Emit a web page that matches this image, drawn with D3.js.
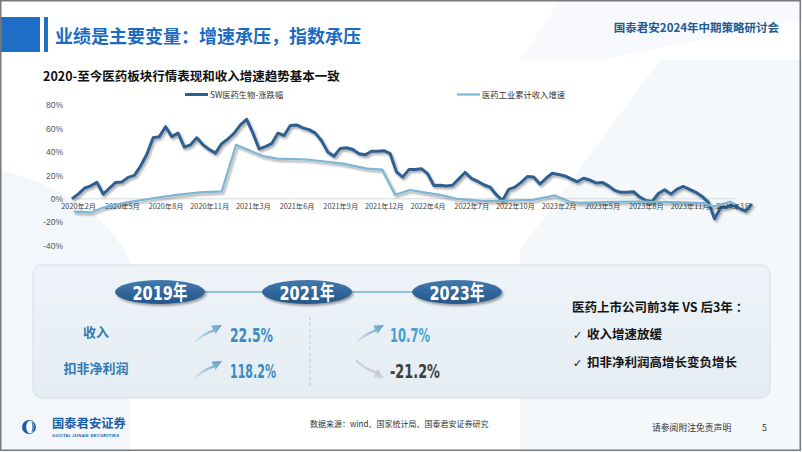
<!DOCTYPE html>
<html>
<head>
<meta charset="utf-8">
<script src="https://cdn.jsdelivr.net/npm/d3@7"></script>
<style>
  body { margin: 0; background: #fff; }
  svg { display: block; }
</style>
</head>
<body>
<svg id="slide"></svg>
<script>
// x-axis category labels (one every 7 bi-weekly points)
const tickLabels = ["2020年2月", "2020年5月", "2020年8月", "2020年11月", "2021年3月", "2021年6月",
  "2021年9月", "2021年12月", "2022年4月", "2022年7月", "2022年10月", "2023年2月",
  "2023年5月", "2023年8月", "2023年11月", "2024年3月"];
// SW医药生物 cumulative change, %, bi-weekly
const swChange = [0, 4, 9, 11, 14, 4, 9, 14, 14.3, 18.3,
  20, 28, 38, 52, 53, 61.5, 53, 56, 44, 46,
  52, 46, 42, 39, 47, 51, 56, 63, 67.8, 56,
  42.5, 44.5, 47, 56, 54, 62.5, 63, 60.5, 59, 56,
  49.5, 40, 36.3, 43, 43.5, 42, 38.4, 37.5, 40.5, 40.5,
  41, 38.5, 23, 18.5, 24.9, 25, 25.7, 21.5, 11.4, 11.5,
  11, 11.5, 17, 22.5, 17.5, 15, 12, 10, 3.5, -1.5,
  8, 10, 14, 19, 18.5, 12.6, 17.5, 21.8, 20.8, 19.5,
  17, 14.5, 17.5, 16, 13.5, 14, 11, 7.2, 5.5, 5.5,
  6, 1.5, -1.5, -2.3, 4.5, 7.7, 4, 8.2, 10.5, 8,
  5.5, 2, -3, -17, -7.5, -7, -5, -8.3, -10.5, -4.5];
// 医药工业累计收入增速, % (period where each monthly reading falls)
const revenueAt = [0.3, 3.2, 5, 8.8, 13, 16.8, 20.5, 24, 26.3, 30.6, 32.9, 37.7, 43.4, 47.3, 49.7,
  51.8, 54.2, 56.9, 59, 61.7, 65.9, 68.6, 73.9, 77.4, 79.8, 81.4, 85.1, 90.6, 95.9, 101.2,
  102.8, 105.5, 106.3];
const revenueGrowth = [-11, -11.5, -7.5, -3, 0.5, 3.4, 5.4, 6.3, 46, 36.5, 34.3, 33.5, 30, 25.7, 24.9,
  3.4, 7.5, 5, 3.4, 0, -1.7, -1.7, -0.9, 2.9, -2.5, -3.5, -2.9, -2.3, -2.9, -3.7,
  -6.6, -2.5, -5];
const yTicks = [-40, -20, 0, 20, 40, 60, 80];
const seriesNames = ["SW医药生物-涨跌幅", "医药工业累计收入增速"];

const years = ["2019年", "2021年", "2023年"];
const metrics = ["收入", "扣非净利润"];
const firstPeriod = ["22.5%", "118.2%"];
const secondPeriod = ["10.7%", "-21.2%"];
const summary = ["医药上市公司前3年 VS 后3年 ：", "收入增速放缓", "扣非净利润高增长变负增长"];

const W = 802, H = 452;
const cjk = "'Noto Sans CJK SC', 'Noto Sans', sans-serif";
const narrow = "'DejaVu Sans', 'Noto Sans CJK SC', sans-serif";
const darkBlue = "#2d5f8f";
const lightBlue = "#7db5d2";

const svg = d3.select("#slide").attr("width", W).attr("height", H).attr("viewBox", [0, 0, W, H]);
const defs = svg.append("defs");

const shadow = defs.append("filter").attr("id", "shadow")
  .attr("x", "-5%").attr("y", "-20%").attr("width", "110%").attr("height", "140%");
shadow.append("feDropShadow").attr("dx", 1.5).attr("dy", 2).attr("stdDeviation", 1)
  .attr("flood-color", "#000").attr("flood-opacity", 0.35);

const panelGrad = defs.append("linearGradient").attr("id", "panelGrad").attr("x1", 0).attr("y1", 0).attr("x2", 0).attr("y2", 1);
panelGrad.append("stop").attr("offset", 0).attr("stop-color", "#eef4f8");
panelGrad.append("stop").attr("offset", 1).attr("stop-color", "#e4edf3");

const badgeGrad = defs.append("linearGradient").attr("id", "badgeGrad").attr("x1", 0).attr("y1", 0).attr("x2", 0).attr("y2", 1);
badgeGrad.append("stop").attr("offset", 0).attr("stop-color", "#4279ae");
badgeGrad.append("stop").attr("offset", 1).attr("stop-color", "#245589");

const upGrad = defs.append("linearGradient").attr("id", "upGrad").attr("x1", 0).attr("y1", 1).attr("x2", 1).attr("y2", 0);
upGrad.append("stop").attr("offset", 0).attr("stop-color", "#e2eef4");
upGrad.append("stop").attr("offset", 1).attr("stop-color", "#5b9dc2");

const downGrad = defs.append("linearGradient").attr("id", "downGrad").attr("x1", 0).attr("y1", 0).attr("x2", 1).attr("y2", 1);
downGrad.append("stop").attr("offset", 0).attr("stop-color", "#eceeef");
downGrad.append("stop").attr("offset", 1).attr("stop-color", "#a9adb0");

// background
svg.append("rect").attr("width", W).attr("height", H).attr("fill", "#fff");
svg.append("path").attr("d", "M0,170 C60,185 110,215 130,262 L130,452 L0,452 Z").attr("fill", "#f3f7fb");
svg.append("path").attr("d", "M520,60 L802,60 L802,452 L520,452 Z").attr("fill", "#f4f8fb");
svg.append("path").attr("d", "M520,60 L660,60 L520,250 Z").attr("fill", "#fff");
svg.append("path").attr("d", "M560,0 L802,0 L802,20 L600,60 L520,60 Z").attr("fill", "#f7f9fc");

// header
svg.append("rect").attr("x", 0).attr("y", 17).attr("width", 40).attr("height", 35).attr("fill", "#1f6fc6");
svg.append("rect").attr("x", 44).attr("y", 17).attr("width", 4).attr("height", 35).attr("fill", "#1f6fc6");
svg.append("text").attr("x", 55).attr("y", 43).attr("font-family", cjk).attr("font-size", 18)
  .attr("font-weight", 700).attr("fill", "#1a6cc3").text("业绩是主要变量：增速承压，指数承压");
svg.append("text").attr("x", 779).attr("y", 31.5).attr("text-anchor", "end").attr("font-family", cjk)
  .attr("font-size", 11.5).attr("font-weight", 700).attr("fill", "#1f5a92").text("国泰君安2024年中期策略研讨会");

// chart title
svg.append("text").attr("x", 43).attr("y", 80.5).attr("font-family", cjk).attr("font-size", 12.5)
  .attr("font-weight", 700).attr("fill", "#111").text("2020-至今医药板块行情表现和收入增速趋势基本一致");

// scales
const x = d3.scaleLinear().domain([0, swChange.length - 1]).range([72, 752]);
const y = d3.scaleLinear().domain([-40, 80]).range([245.7, 105]);

// zero line
svg.append("line").attr("x1", 70).attr("x2", 735).attr("y1", y(0)).attr("y2", y(0))
  .attr("stroke", "#d6d9dc").attr("stroke-width", 1);

// axes
svg.append("g").attr("transform", `translate(64,0)`)
  .call(d3.axisLeft(y).tickValues(yTicks).tickFormat((d) => d + "%").tickSize(0).tickPadding(1))
  .call((g) => g.select(".domain").remove())
  .call((g) => g.selectAll("text").attr("font-family", "'Liberation Sans', Arial, sans-serif")
    .attr("font-size", 8.5).attr("fill", "#555"));

svg.append("g").attr("transform", `translate(0,${y(0)})`)
  .call(d3.axisBottom(x).tickValues(tickLabels.map((d, i) => 1 + 7 * i))
    .tickFormat((d, i) => tickLabels[i]).tickSize(0).tickPadding(5.5))
  .call((g) => g.select(".domain").remove())
  .call((g) => g.selectAll("text").attr("font-family", cjk).attr("font-size", 7.3).attr("fill", "#444"));

// lines
const swLine = d3.line().x((d, i) => x(i)).y((d) => y(d)).curve(d3.curveLinear);
svg.append("path").datum(swChange).attr("d", swLine).attr("fill", "none")
  .attr("stroke", darkBlue).attr("stroke-width", 3).attr("stroke-linejoin", "round")
  .attr("filter", "url(#shadow)");

const revLine = d3.line().x((d, i) => x(revenueAt[i])).y((d) => y(d));
svg.append("path").datum(revenueGrowth).attr("d", revLine).attr("fill", "none")
  .attr("stroke", lightBlue).attr("stroke-width", 2.2).attr("stroke-linejoin", "round")
  .attr("filter", "url(#shadow)");

// legend
const legend = svg.append("g").attr("font-family", cjk).attr("font-size", 8.3).attr("fill", "#333");
[[185, darkBlue, 3], [457, lightBlue, 2.2]].forEach(([lx, c, w], i) => {
  legend.append("line").attr("x1", lx).attr("x2", lx + 23).attr("y1", 94.5).attr("y2", 94.5)
    .attr("stroke", c).attr("stroke-width", w);
  legend.append("text").attr("x", lx + 25).attr("y", 97.5).text(seriesNames[i]);
});

// summary panel
svg.append("rect").attr("x", 33).attr("y", 265).attr("width", 737).attr("height", 133).attr("rx", 9)
  .attr("fill", "url(#panelGrad)").attr("stroke", "#d2dde6").attr("stroke-width", 1);

const badgeX = [160, 307, 457];
svg.append("line").attr("x1", badgeX[0]).attr("x2", badgeX[2]).attr("y1", 292).attr("y2", 292)
  .attr("stroke", "#3f8dbf").attr("stroke-width", 1);
const badges = svg.append("g").selectAll("g").data(years).join("g")
  .attr("transform", (d, i) => `translate(${badgeX[i]},292)`);
badges.append("ellipse").attr("rx", 45).attr("ry", 12).attr("fill", "url(#badgeGrad)").attr("filter", "url(#shadow)");
badges.append("text").attr("text-anchor", "middle").attr("y", 7.5).attr("font-family", narrow)
  .attr("font-size", 20).attr("font-weight", 700).attr("fill", "#fff")
  .attr("textLength", 55).attr("lengthAdjust", "spacingAndGlyphs").text((d) => d);

// metric rows
const rowY = [337, 373];
svg.append("g").selectAll("text").data(metrics).join("text")
  .attr("x", 96).attr("y", (d, i) => rowY[i]).attr("text-anchor", "middle")
  .attr("font-family", cjk).attr("font-size", 13).attr("font-weight", 700).attr("fill", "#3479b0")
  .text((d) => d);

const upArrow = "M0,18 C8,11 13,8 20,5.5 L18.5,1.5 L29,1 L22.5,10 L21.5,7.5 C14,10 9,13 2,19 Z";
const valueWidths = [[43, 46], [40, 50]];
[firstPeriod, secondPeriod].forEach((vals, col) => {
  const ax = col === 0 ? 193 : 355;
  const tx = col === 0 ? 230 : 390;
  vals.forEach((v, r) => {
    const up = !v.startsWith("-");
    const ay = rowY[r] - 13;
    svg.append("path").attr("d", upArrow)
      .attr("transform", up ? `translate(${ax},${ay})` : `translate(${ax},${ay + 19}) scale(1,-1)`)
      .attr("fill", up ? "url(#upGrad)" : "url(#downGrad)");
    svg.append("text").attr("x", tx).attr("y", rowY[r] + 5).attr("font-family", narrow)
      .attr("font-size", 20).attr("font-weight", 700)
      .attr("textLength", valueWidths[col][r]).attr("lengthAdjust", "spacingAndGlyphs")
      .attr("fill", up ? (col === 0 ? "#3a8cc1" : "#45a0d2") : "#3d3f42").text(v);
  });
});

svg.append("line").attr("x1", 310).attr("x2", 310).attr("y1", 317).attr("y2", 386)
  .attr("stroke", "#b9c2c9").attr("stroke-width", 1).attr("stroke-dasharray", "3,3");

// summary text
const sumG = svg.append("g").attr("font-family", cjk).attr("font-weight", 700).attr("fill", "#151515");
sumG.append("text").attr("x", 572).attr("y", 312).attr("font-size", 12.5).text(summary[0]);
summary.slice(1).forEach((s, i) => {
  const ty = 339 + i * 28;
  sumG.append("text").attr("x", 573).attr("y", ty).attr("font-size", 11).attr("font-weight", 400)
    .attr("font-family", "'DejaVu Sans', sans-serif").text("✓");
  sumG.append("text").attr("x", 587).attr("y", ty).attr("font-size", 12.5).text(s);
});

// footer
const logo = svg.append("g").attr("transform", "translate(29,427)");
logo.append("circle").attr("r", 7).attr("fill", "#1b5fa9");
logo.append("ellipse").attr("cx", 1.2).attr("rx", 4).attr("ry", 6.3).attr("fill", "#fff");
logo.append("path").attr("d", "M1.5,-5.6 A3.4,5.6 0 0 1 1.5,5.6 A2,5.6 0 0 0 1.5,-5.6 Z").attr("fill", "#1b5fa9");
svg.append("text").attr("x", 52).attr("y", 428).attr("font-family", cjk).attr("font-size", 12.3)
  .attr("font-weight", 700).attr("fill", "#1b5fa9").text("国泰君安证券");
svg.append("text").attr("x", 52).attr("y", 437).attr("font-family", "'Liberation Sans', sans-serif")
  .attr("font-size", 4.4).attr("font-weight", 700).attr("fill", "#1b5fa9").attr("letter-spacing", 0.3)
  .text("GUOTAI JUNAN SECURITIES");
svg.append("text").attr("x", 310).attr("y", 427).attr("font-family", cjk).attr("font-size", 8)
  .attr("fill", "#333").text("数据来源：wind、国家统计局、国泰君安证券研究");
svg.append("text").attr("x", 652).attr("y", 431).attr("font-family", cjk).attr("font-size", 8.8)
  .attr("fill", "#333").text("请参阅附注免责声明");
svg.append("text").attr("x", 762).attr("y", 431).attr("font-family", cjk).attr("font-size", 8.8)
  .attr("fill", "#333").text("5");

// slide frame
svg.append("rect").attr("x", 0.75).attr("y", 0.75).attr("width", 799.5).attr("height", 449.5)
  .attr("fill", "none").attr("stroke", "#7a7a7a").attr("stroke-width", 1.5);
</script>
</body>
</html>
